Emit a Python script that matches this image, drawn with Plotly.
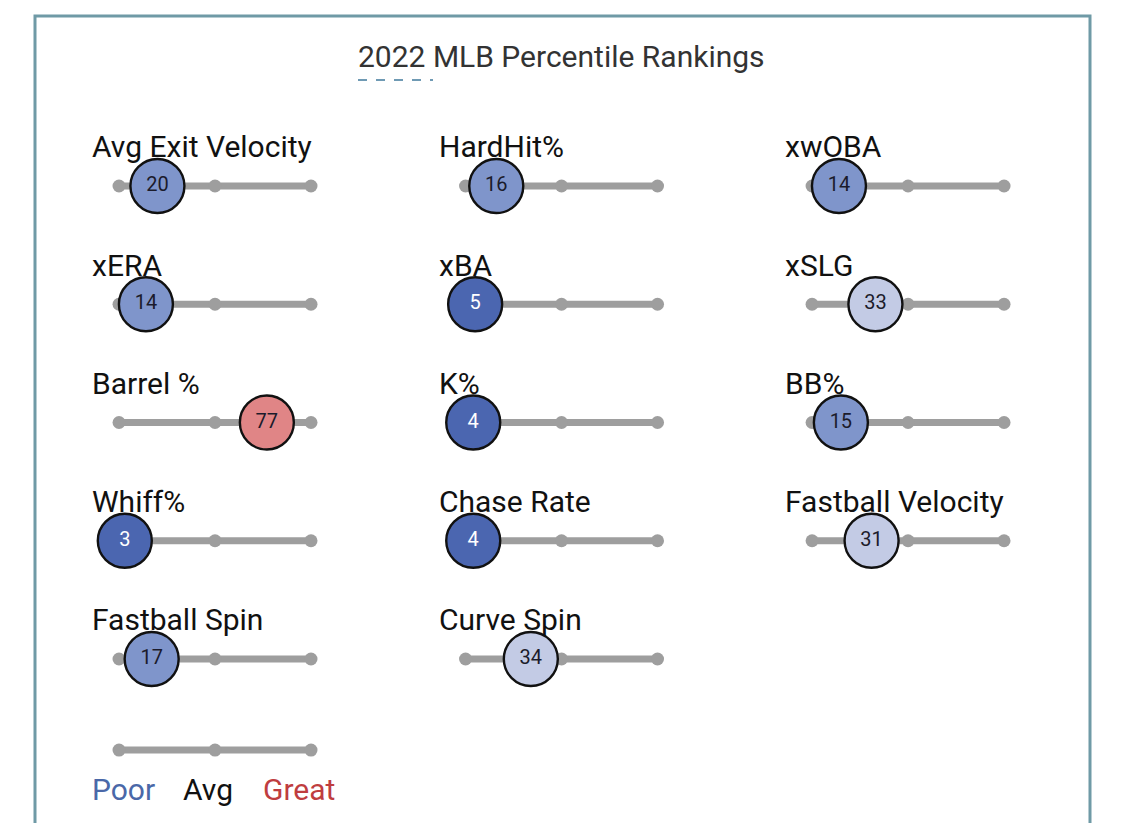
import plotly.graph_objects as go

# ---- data ----
metrics = ["Avg Exit Velocity", "HardHit%", "xwOBA",
           "xERA", "xBA", "xSLG",
           "Barrel %", "K%", "BB%",
           "Whiff%", "Chase Rate", "Fastball Velocity",
           "Fastball Spin", "Curve Spin"]
percentiles = [20, 16, 14,
               14, 5, 33,
               77, 4, 15,
               3, 4, 31,
               17, 34]
track_ticks = [0, 50, 100]
legend_labels = ["Poor", "Avg", "Great"]
title_text = "2022 MLB Percentile Rankings"

# ---- layout helpers (style) ----
W, H = 1125, 823
NCOL = 3
COL_STEP = 180.5      # x units between columns (1 unit = 1 percentile point)
ROW_STEP = 1.0
X_RANGE = [-62.0, 524.0]
Y_RANGE = [5.387, -1.573]   # reversed: row 0 at top
LEGEND_ROW = 4.77
TRACK_GREY = "#9e9e9e"
FONT = "Roboto"


def circle_color(v):
    if v <= 10:
        return "#4b66b0"
    if v <= 25:
        return "#7f95cb"
    if v <= 45:
        return "#c3cbe5"
    if v < 55:
        return "#dddddd"
    if v < 70:
        return "#eab0b0"
    return "#e08586"


def text_color(v):
    return "white" if v <= 10 else "#1b1b2b"


fig = go.Figure()

rows_cols = [(i // NCOL, i % NCOL) for i in range(len(metrics))]

# tracks
for (r, c) in rows_cols + [(LEGEND_ROW, 0)]:
    xs = [c * COL_STEP + t for t in track_ticks]
    ys = [r * ROW_STEP] * len(xs)
    fig.add_trace(go.Scatter(
        x=xs, y=ys, mode="lines+markers",
        line=dict(color=TRACK_GREY, width=7),
        marker=dict(color=TRACK_GREY, size=13),
        hoverinfo="skip", showlegend=False))

# circles
cx = [c * COL_STEP + v for (r, c), v in zip(rows_cols, percentiles)]
cy = [r * ROW_STEP for (r, c) in rows_cols]
fig.add_trace(go.Scatter(
    x=cx, y=cy, mode="markers+text",
    marker=dict(size=54, color=[circle_color(v) for v in percentiles],
                line=dict(color="#111111", width=2.4)),
    text=[str(v) for v in percentiles],
    textposition="middle center",
    textfont=dict(family=FONT, size=20, color=[text_color(v) for v in percentiles]),
    hovertext=metrics, showlegend=False))

# metric labels
for name, (r, c) in zip(metrics, rows_cols):
    fig.add_annotation(
        x=c * COL_STEP - 15.0, y=r * ROW_STEP - 0.33,
        text=name, showarrow=False, xanchor="left", yanchor="middle",
        font=dict(family=FONT, size=30, color="#111111"))

# legend labels
leg_colors = ["#4a68a8", "#111111", "#bf3d3f"]
leg_x = [2.5, 46.5, 94.0]
for lab, col, lx in zip(legend_labels, leg_colors, leg_x):
    fig.add_annotation(
        x=lx, y=LEGEND_ROW + 0.33, text=lab, showarrow=False,
        xanchor="center", yanchor="middle",
        font=dict(family=FONT, size=30, color=col))

# title
fig.add_annotation(
    x=0.4995, y=1 - 57 / H, xref="paper", yref="paper",
    text=title_text, showarrow=False, xanchor="center", yanchor="middle",
    font=dict(family=FONT, size=30, color="#333333"))

# frame border and dashed underline
fig.add_shape(type="rect", xref="paper", yref="paper",
              x0=35 / W, x1=1090 / W, y0=-0.05, y1=1 - 16 / H,
              line=dict(color="#6f9aa6", width=3), fillcolor="rgba(0,0,0,0)")
fig.add_shape(type="line", xref="paper", yref="paper",
              x0=358 / W, x1=433 / W, y0=1 - 80 / H, y1=1 - 80 / H,
              line=dict(color="#6f9ab4", width=2, dash="dash"))

fig.update_layout(
    width=W, height=H,
    margin=dict(l=0, r=0, t=0, b=0),
    paper_bgcolor="white", plot_bgcolor="white",
    xaxis=dict(range=X_RANGE, visible=False, fixedrange=True),
    yaxis=dict(range=Y_RANGE, visible=False, fixedrange=True),
    showlegend=False,
)

fig.write_html("out.html", config={"displayModeBar": False},
               post_script="document.body.style.margin='0';")
